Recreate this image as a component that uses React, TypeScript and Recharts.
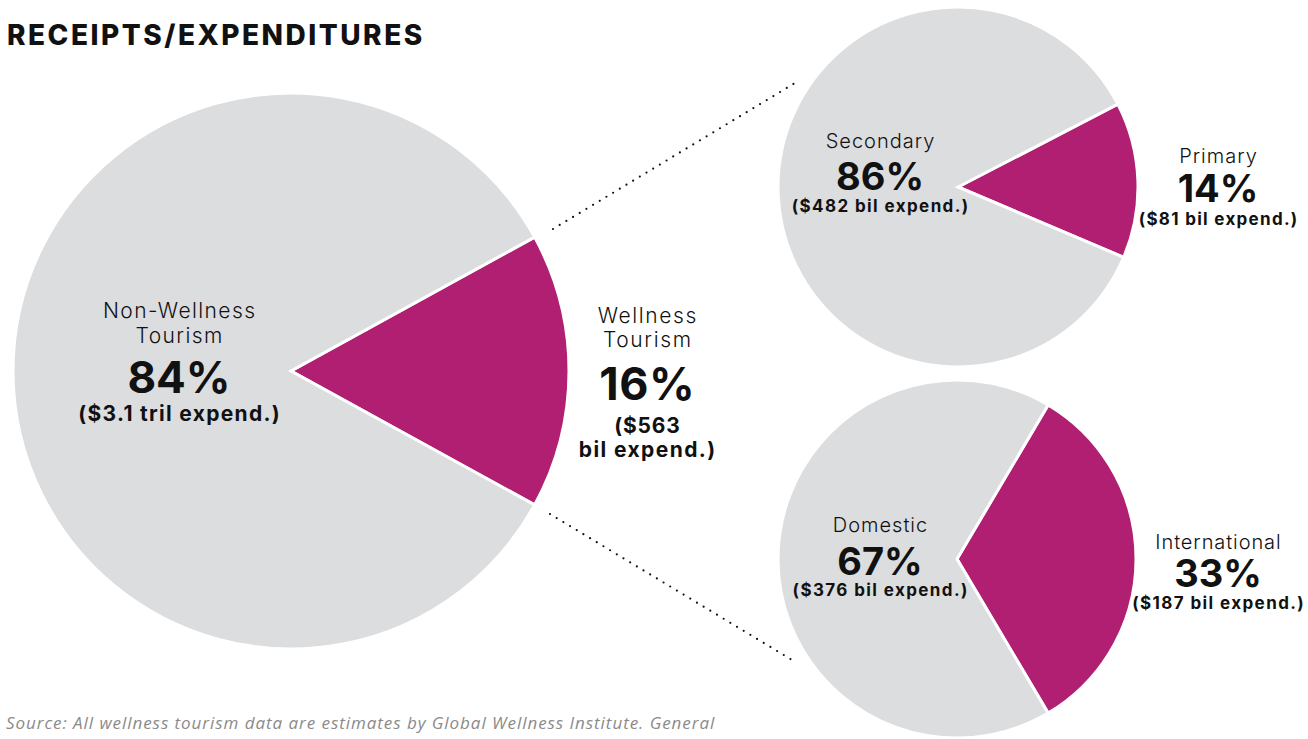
import { PieChart, Pie, Cell } from "recharts";

const MAGENTA = "#B11F73";
const GREY = "#DCDDDF";
const FONT = "Inter, 'Noto Sans', sans-serif";

// wellness vs non-wellness tourism receipts
const tourismNames = ["Wellness Tourism", "Non-Wellness Tourism"];
const tourismShares = [16, 84];
const tourismSpend = ["$563", "$3.1 tril"];

// wellness trips by purpose
const purposeNames = ["Primary", "Secondary"];
const purposeShares = [14, 86];
const purposeSpend = ["$81 bil", "$482 bil"];

// wellness trips by origin
const originNames = ["International", "Domestic"];
const originShares = [33, 67];
const originSpend = ["$187 bil", "$376 bil"];

const sliceColors = [MAGENTA, GREY];

const toRows = (names: string[], shares: number[], spend: string[]) =>
  names.map((name, i) => ({ name, value: shares[i], spend: spend[i] }));

type LineStyle = { dy: number; size: number; weight: number; ls: number };
type SliceLabel = { dx: number; splitName?: boolean; breakSpend?: boolean; lines: LineStyle[] };

const n = (dy: number, size: number, ls: number): LineStyle => ({ dy, size, weight: 300, ls });
const b = (dy: number, size: number, ls = 0): LineStyle => ({ dy, size, weight: 700, ls });

const mainLabels: SliceLabel[] = [
  {
    dx: 356,
    splitName: true,
    breakSpend: true,
    lines: [n(-48, 21, 1.6), n(-24, 21, 1.6), b(29, 45, 0.5), b(62, 21, 0.8), b(86, 21, 1.4)],
  },
  { dx: -112, splitName: true, lines: [n(-53, 21, 1.4), n(-28, 21, 1.4), b(22, 44), b(50, 21, 1.3)] },
];
const purposeLabels: SliceLabel[] = [
  { dx: 260, lines: [n(-24, 20, 1), b(15, 38), b(38, 17, 1.3)] },
  { dx: -78, lines: [n(-39, 20, 1), b(3, 38), b(25, 17, 1.4)] },
];
const originLabels: SliceLabel[] = [
  { dx: 261, lines: [n(-10, 20, 0.9), b(28, 38), b(50, 17, 1.4)] },
  { dx: -77, lines: [n(-27, 20, 1), b(16, 38), b(37, 17, 1.4)] },
];

function makeLabel(layout: SliceLabel[]) {
  return (props: any) => {
    const cfg = layout[props.index];
    const row = props.payload?.payload ?? props.payload;
    if (!cfg || !row) return null;
    const nameParts = cfg.splitName ? row.name.split(" ") : [row.name];
    const spendParts = cfg.breakSpend
      ? [`(${row.spend}`, "bil expend.)"]
      : [`(${row.spend} expend.)`];
    const texts = [...nameParts, `${row.value}%`, ...spendParts];
    const y = Number(props.cy);
    return (
      <g>
        {texts.map((t, i) => (
          <text
            key={i}
            x={Number(props.cx) + cfg.dx + cfg.lines[i].ls / 2}
            y={y + cfg.lines[i].dy}
            textAnchor="middle"
            fontFamily={FONT}
            fontSize={cfg.lines[i].size}
            fontWeight={cfg.lines[i].weight}
            letterSpacing={cfg.lines[i].ls}
            fill="#111"
          >
            {t}
          </text>
        ))}
      </g>
    );
  };
}

const pieStroke = { stroke: "#fff", strokeWidth: 3 };
const dotted = { stroke: "#111", strokeWidth: 2.2, strokeDasharray: "0 7.8", strokeLinecap: "round" as const };

export default function App() {
  const tourism = toRows(tourismNames, tourismShares, tourismSpend);
  const purpose = toRows(purposeNames, purposeShares, purposeSpend);
  const origin = toRows(originNames, originShares, originSpend);

  return (
    <div style={{ position: "absolute", left: 0, top: 0, width: 1308, height: 739, background: "#fff" }}>
      <PieChart width={1308} height={739} margin={{ top: 0, right: 0, bottom: 0, left: 0 }}>
        <text x={7} y={45} fontFamily={FONT} fontSize={28} fontWeight={800} letterSpacing={2.5} fill="#111">
          RECEIPTS/EXPENDITURES
        </text>
        <line x1={553} y1={229} x2={795} y2={83} {...dotted} />
        <line x1={550} y1={514} x2={797} y2={663} {...dotted} />
        <Pie
          data={tourism}
          dataKey="value"
          nameKey="name"
          cx={291}
          cy={371}
          outerRadius={278}
          startAngle={-28.8}
          endAngle={331.2}
          {...pieStroke}
          label={makeLabel(mainLabels)}
          labelLine={false}
          isAnimationActive={false}
        >
          {tourism.map((d, i) => (
            <Cell key={d.name} fill={sliceColors[i]} />
          ))}
        </Pie>
        <Pie
          data={purpose}
          dataKey="value"
          nameKey="name"
          cx={958}
          cy={187}
          outerRadius={180}
          startAngle={-23}
          endAngle={337}
          {...pieStroke}
          label={makeLabel(purposeLabels)}
          labelLine={false}
          isAnimationActive={false}
        >
          {purpose.map((d, i) => (
            <Cell key={d.name} fill={sliceColors[i]} />
          ))}
        </Pie>
        <Pie
          data={origin}
          dataKey="value"
          nameKey="name"
          cx={957}
          cy={559}
          outerRadius={179}
          startAngle={-59.4}
          endAngle={300.6}
          {...pieStroke}
          label={makeLabel(originLabels)}
          labelLine={false}
          isAnimationActive={false}
        >
          {origin.map((d, i) => (
            <Cell key={d.name} fill={sliceColors[i]} />
          ))}
        </Pie>
        <text x={6} y={729} fontFamily="'Open Sans', sans-serif" fontSize={17} fontStyle="italic" letterSpacing={0.95} fill="#8a8a8a">
          Source: All wellness tourism data are estimates by Global Wellness Institute. General
        </text>
      </PieChart>
    </div>
  );
}
